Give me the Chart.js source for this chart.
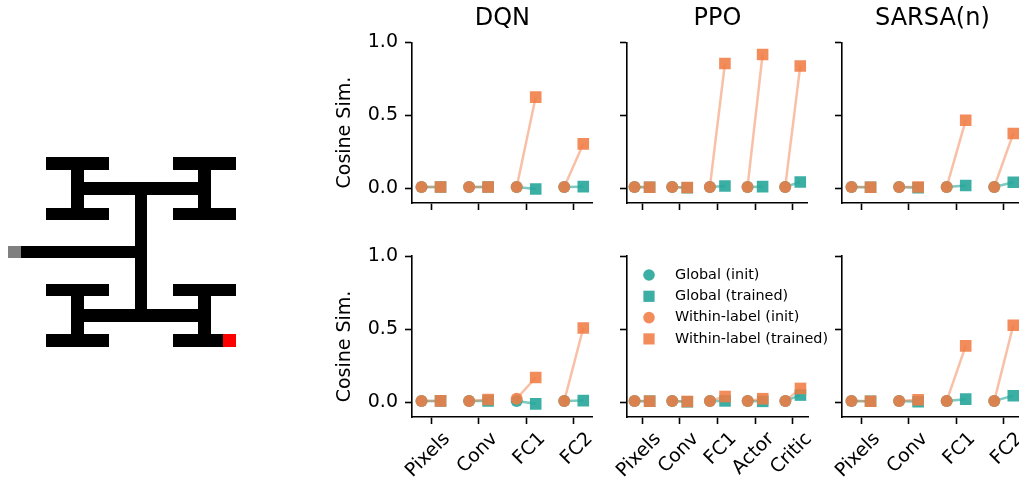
<!DOCTYPE html>
<html lang="en">
<head>
  <meta charset="UTF-8">
  <title>Cosine similarity per layer</title>
  <script src="https://cdn.jsdelivr.net/npm/chart.js"></script>
  <style>
    body { margin: 0; background: #fff; overflow: hidden; }
    #wrap { position: relative; width: 1019px; height: 481px; }
    .box { position: absolute; }
  </style>
</head>
<body>
  <div id="wrap"></div>

  <script>
    // maze: # path cell (black), S start (grey), G goal (red)
    const mazeRows = [
      '...#####.....#####',
      '.....#.........#..',
      '.....###########..',
      '.....#....#....#..',
      '...#####..#..#####',
      '..........#.......',
      '..........#.......',
      'S##########.......',
      '..........#.......',
      '..........#.......',
      '...#####..#..#####',
      '.....#....#....#..',
      '.....###########..',
      '.....#.........#..',
      '...#####.....####G'
    ];

    const dqnLayers = ['Pixels', 'Conv', 'FC1', 'FC2'];
    const ppoLayers = ['Pixels', 'Conv', 'FC1', 'Actor', 'Critic'];
    const sarsaLayers = ['Pixels', 'Conv', 'FC1', 'FC2'];
    const yTicks = [0, 0.5, 1.0];
    const yTitle = 'Cosine Sim.';

    // top row
    const dqnTopGlobalInit = [0.01, 0.01, 0.01, 0.01];
    const dqnTopGlobalTrained = [0.01, 0.01, -0.004, 0.012];
    const dqnTopWithinInit = [0.01, 0.01, 0.01, 0.01];
    const dqnTopWithinTrained = [0.01, 0.01, 0.625, 0.305];

    const ppoTopGlobalInit = [0.01, 0.01, 0.01, 0.01, 0.01];
    const ppoTopGlobalTrained = [0.008, 0.004, 0.016, 0.012, 0.044];
    const ppoTopWithinInit = [0.01, 0.01, 0.01, 0.01, 0.01];
    const ppoTopWithinTrained = [0.008, 0.006, 0.855, 0.917, 0.838];

    const sarsaTopGlobalInit = [0.01, 0.01, 0.01, 0.01];
    const sarsaTopGlobalTrained = [0.008, 0.004, 0.02, 0.042];
    const sarsaTopWithinInit = [0.01, 0.01, 0.01, 0.01];
    const sarsaTopWithinTrained = [0.008, 0.01, 0.466, 0.376];

    // bottom row
    const dqnBotGlobalInit = [0.01, 0.01, 0.01, 0.01];
    const dqnBotGlobalTrained = [0.01, 0.01, -0.01, 0.012];
    const dqnBotWithinInit = [0.01, 0.01, 0.025, 0.01];
    const dqnBotWithinTrained = [0.01, 0.02, 0.17, 0.508];

    const ppoBotGlobalInit = [0.01, 0.01, 0.01, 0.01, 0.01];
    const ppoBotGlobalTrained = [0.008, 0.004, 0.01, 0.007, 0.05];
    const ppoBotWithinInit = [0.01, 0.01, 0.01, 0.01, 0.01];
    const ppoBotWithinTrained = [0.008, 0.006, 0.04, 0.025, 0.095];

    const sarsaBotGlobalInit = [0.01, 0.01, 0.01, 0.01];
    const sarsaBotGlobalTrained = [0.008, 0.004, 0.022, 0.045];
    const sarsaBotWithinInit = [0.01, 0.01, 0.01, 0.01];
    const sarsaBotWithinTrained = [0.008, 0.018, 0.386, 0.527];

    const TEAL = 'rgba(38,166,154,0.9)';
    const TEAL_LINE = 'rgba(38,166,154,0.6)';
    const ORANGE = 'rgba(240,124,68,0.88)';
    const ORANGE_LINE = 'rgba(240,124,68,0.48)';

    Chart.defaults.font.family = '"DejaVu Sans", sans-serif';
    Chart.defaults.color = '#000';

    const wrap = document.getElementById('wrap');
    function addCanvas(left, top, width, height) {
      const box = document.createElement('div');
      box.className = 'box';
      box.style.cssText = `left:${left}px;top:${top}px;width:${width}px;height:${height}px`;
      const c = document.createElement('canvas');
      box.appendChild(c);
      wrap.appendChild(box);
      return c;
    }

    // ---- maze ----
    const mazeColors = { '#': '#000000', 'S': '#808080', 'G': '#ff0000' };
    const mazePlugin = {
      id: 'mazeCells',
      beforeDatasetsDraw(chart) {
        const { ctx, scales: { x, y } } = chart;
        ctx.save();
        mazeRows.forEach((row, r) => {
          [...row].forEach((ch, c) => {
            if (!mazeColors[ch]) return;
            const x0 = Math.round(x.getPixelForValue(c)), x1 = Math.round(x.getPixelForValue(c + 1));
            const y0 = Math.round(y.getPixelForValue(r)), y1 = Math.round(y.getPixelForValue(r + 1));
            ctx.fillStyle = mazeColors[ch];
            ctx.fillRect(x0, y0, x1 - x0, y1 - y0);
          });
        });
        ctx.restore();
      }
    };
    new Chart(addCanvas(8, 157, 228, 190), {
      type: 'scatter',
      data: { datasets: [] },
      options: {
        animation: false, responsive: true, maintainAspectRatio: false,
        layout: { padding: 0 },
        plugins: { legend: { display: false }, tooltip: { enabled: false } },
        scales: {
          x: { display: false, min: 0, max: mazeRows[0].length },
          y: { display: false, reverse: true, min: 0, max: mazeRows.length }
        }
      },
      plugins: [mazePlugin]
    });

    // ---- legend drawn inside the PPO bottom panel ----
    const insideLegend = {
      id: 'insideLegend',
      afterDraw(chart) {
        const { ctx, chartArea } = chart;
        const items = chart.data.datasets.filter(d => d.inLegend).sort((a, b) => a.inLegend - b.inLegend);
        ctx.save();
        ctx.font = '14.4px "DejaVu Sans"';
        ctx.textBaseline = 'middle';
        items.forEach((d, i) => {
          const cx = chartArea.left + 22, cy = chartArea.top + 19 + i * 21.3;
          ctx.fillStyle = d.backgroundColor;
          if (d.pointStyle === 'circle') {
            ctx.beginPath(); ctx.arc(cx, cy, 5.8, 0, Math.PI * 2); ctx.fill();
          } else {
            ctx.fillRect(cx - 5.6, cy - 5.6, 11.2, 11.2);
          }
          ctx.fillStyle = '#000';
          ctx.fillText(d.label, chartArea.left + 48, cy);
        });
        ctx.restore();
      }
    };

    // y label sits a little below the axis middle in the original
    const yLabel = {
      id: 'yLabel',
      afterDraw(chart) {
        const { ctx, chartArea, scales: { y } } = chart;
        ctx.save();
        ctx.translate(y.left + 15, (chartArea.top + chartArea.bottom) / 2 + 10);
        ctx.rotate(-Math.PI / 2);
        ctx.font = '19px "DejaVu Sans"';
        ctx.fillStyle = '#000';
        ctx.textAlign = 'center';
        ctx.textBaseline = 'middle';
        ctx.fillText(yTitle, 0, 0);
        ctx.restore();
      }
    };

    const L = 82, B = 70, AREA_W = 181;
    const axisX = [412, 627, 842];

    function markers(vals, off) { return vals.map((v, i) => ({ x: i + off, y: v })); }
    function segments(a, b) {
      const pts = [];
      a.forEach((v, i) => { pts.push({ x: i - 0.2, y: v }, { x: i + 0.2, y: b[i] }, { x: i, y: null }); });
      return pts;
    }

    function panel(o) {
      const bottomRow = o.row === 1;
      const R = o.legend ? 45 : 8;
      const top = bottomRow ? 236 : 0;
      const height = bottomRow ? 251 : 273;
      const left = axisX[o.col] - L;
      const n = o.layers.length;
      const axisGrid = { drawOnChartArea: false, drawTicks: true, tickLength: 7, tickWidth: 1.6, tickColor: '#000' };
      const axisBorder = { color: '#000', width: 1.6 };
      const extra = [];
      if (o.legend) extra.push(insideLegend);
      if (o.col === 0) extra.push(yLabel);
      new Chart(addCanvas(left, top, L + AREA_W + R, height), {
        type: 'scatter',
        data: {
          datasets: [
            { label: 'Within-label (trained)', inLegend: 4, data: markers(o.wTrained, 0.2), pointStyle: 'rect', pointRadius: 8.2, backgroundColor: ORANGE, borderWidth: 0 },
            { label: 'Within-label (init)', inLegend: 3, data: markers(o.wInit, -0.2), pointStyle: 'circle', pointRadius: 6, backgroundColor: ORANGE, borderWidth: 0 },
            { label: 'Global (trained)', inLegend: 2, data: markers(o.gTrained, 0.2), pointStyle: 'rect', pointRadius: 8.2, backgroundColor: TEAL, borderWidth: 0 },
            { label: 'Global (init)', inLegend: 1, data: markers(o.gInit, -0.2), pointStyle: 'circle', pointRadius: 6, backgroundColor: TEAL, borderWidth: 0 },
            { label: 'within line', data: segments(o.wInit, o.wTrained), showLine: true, spanGaps: false, pointRadius: 0, borderColor: ORANGE_LINE, borderWidth: 2.5 },
            { label: 'global line', data: segments(o.gInit, o.gTrained), showLine: true, spanGaps: false, pointRadius: 0, borderColor: TEAL_LINE, borderWidth: 2.5 }
          ]
        },
        options: {
          animation: false, responsive: true, maintainAspectRatio: false,
          layout: { padding: { top: bottomRow ? 20 : 4, right: R, left: 0, bottom: 0 } },
          plugins: {
            legend: { display: false },
            tooltip: { enabled: false },
            title: {
              display: !!o.title, text: o.title || '', fullSize: false,
              font: { size: 24, weight: 'normal' }, color: '#000',
              padding: { top: 0, bottom: 9.5 }
            }
          },
          scales: {
            x: {
              type: 'linear', min: -0.4, max: n - 0.6,
              afterFit: s => { s.height = B; },
              afterBuildTicks: s => { s.ticks = o.layers.map((_, i) => ({ value: i })); },
              ticks: {
                display: bottomRow, autoSkip: false, minRotation: 45, maxRotation: 45,
                padding: 4, labelOffset: 16, font: { size: 19 }, color: '#000',
                callback: (v, i) => o.layers[i]
              },
              grid: axisGrid, border: axisBorder
            },
            y: {
              min: -0.1, max: 1.0,
              afterFit: s => { s.width = L; },
              afterBuildTicks: s => { s.ticks = yTicks.map(v => ({ value: v })); },
              ticks: { display: o.col === 0, padding: 7, font: { size: 19 }, color: '#000', callback: v => v.toFixed(1) },
              grid: axisGrid, border: axisBorder
            }
          }
        },
        plugins: extra
      });
    }

    panel({ row: 0, col: 0, title: 'DQN', layers: dqnLayers, gInit: dqnTopGlobalInit, gTrained: dqnTopGlobalTrained, wInit: dqnTopWithinInit, wTrained: dqnTopWithinTrained });
    panel({ row: 0, col: 1, title: 'PPO', layers: ppoLayers, gInit: ppoTopGlobalInit, gTrained: ppoTopGlobalTrained, wInit: ppoTopWithinInit, wTrained: ppoTopWithinTrained });
    panel({ row: 0, col: 2, title: 'SARSA(n)', layers: sarsaLayers, gInit: sarsaTopGlobalInit, gTrained: sarsaTopGlobalTrained, wInit: sarsaTopWithinInit, wTrained: sarsaTopWithinTrained });
    panel({ row: 1, col: 0, layers: dqnLayers, gInit: dqnBotGlobalInit, gTrained: dqnBotGlobalTrained, wInit: dqnBotWithinInit, wTrained: dqnBotWithinTrained });
    panel({ row: 1, col: 1, layers: ppoLayers, gInit: ppoBotGlobalInit, gTrained: ppoBotGlobalTrained, wInit: ppoBotWithinInit, wTrained: ppoBotWithinTrained, legend: true });
    panel({ row: 1, col: 2, layers: sarsaLayers, gInit: sarsaBotGlobalInit, gTrained: sarsaBotGlobalTrained, wInit: sarsaBotWithinInit, wTrained: sarsaBotWithinTrained });
  </script>
</body>
</html>
